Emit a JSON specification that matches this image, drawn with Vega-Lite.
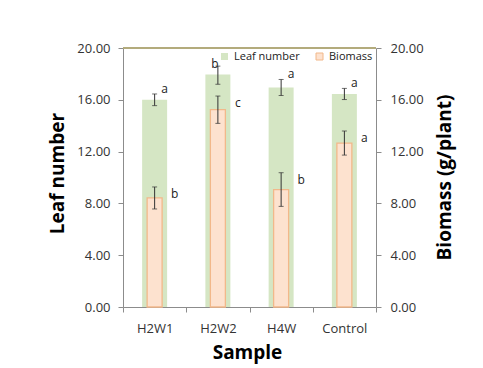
{
  "$schema": "https://vega.github.io/schema/vega-lite/v6.json",
  "width": 253,
  "height": 259,
  "autosize": {"type": "none"},
  "padding": {"left": 123, "top": 48, "right": 107, "bottom": 61},
  "background": "white",
  "config": {
    "view": {"stroke": null},
    "font": "Open Sans",
    "axis": {
      "labelFont": "Open Sans",
      "labelFontSize": 13,
      "labelColor": "#333333",
      "titleFont": "Open Sans",
      "titleFontSize": 19,
      "titleFontWeight": "bold",
      "titleColor": "#000000",
      "domainColor": "#8c8c8c",
      "tickColor": "#8c8c8c",
      "tickSize": 5,
      "grid": false
    }
  },
  "data": {
    "values": [
      {"sample": "H2W1", "leaf": 16.0, "leaf_lo": 15.55, "leaf_hi": 16.45, "leaf_sig": "a", "bio": 8.42, "bio_lo": 7.57, "bio_hi": 9.27, "bio_sig": "b"},
      {"sample": "H2W2", "leaf": 17.95, "leaf_lo": 17.2, "leaf_hi": 18.6, "leaf_sig": "b", "bio": 15.24, "bio_lo": 14.18, "bio_hi": 16.29, "bio_sig": "c"},
      {"sample": "H4W", "leaf": 16.95, "leaf_lo": 16.33, "leaf_hi": 17.57, "leaf_sig": "a", "bio": 9.07, "bio_lo": 7.77, "bio_hi": 10.37, "bio_sig": "b"},
      {"sample": "Control", "leaf": 16.45, "leaf_lo": 16.02, "leaf_hi": 16.88, "leaf_sig": "a", "bio": 12.66, "bio_lo": 11.73, "bio_hi": 13.59, "bio_sig": "a"}
    ]
  },
  "layer": [
    {
      "layer": [
        {
          "encoding": {
            "x": {
              "field": "sample",
              "type": "nominal",
              "sort": null,
              "scale": {"paddingInner": 0, "paddingOuter": 0},
              "axis": {
                "title": "Sample",
                "labelAngle": 0,
                "tickBand": "extent",
                "labelPadding": 10,
                "titleX": 124,
                "titleY": 51,
                "titleBaseline": "alphabetic",
                "titleAlign": "center"
              }
            }
          },
          "layer": [
            {
              "mark": {"type": "bar", "size": 25},
              "encoding": {
                "y": {
                  "field": "leaf",
                  "type": "quantitative",
                  "title": "Leaf number",
                  "scale": {"domain": [0, 20]},
                  "axis": {
                    "orient": "left",
                    "values": [0, 4, 8, 12, 16, 20],
                    "format": ".2f",
                    "labelPadding": 8,
                    "titleAngle": 270,
                    "titleX": -66,
                    "titleY": 125,
                    "titleAlign": "center",
                    "titleBaseline": "middle"
                  }
                },
                "color": {
                  "datum": "Leaf number",
                  "scale": {"domain": ["Leaf number", "Biomass"], "range": ["#d5e6c4", "#fde2cf"]},
                  "legend": {
                    "title": null,
                    "orient": "top-right",
                    "direction": "horizontal",
                    "offset": 3,
                    "symbolType": "square",
                    "symbolSize": 49,
                    "labelFont": "Open Sans",
                    "labelFontSize": 11,
                    "labelColor": "#222222",
                    "columnPadding": 14,
                    "symbolOpacity": 1,
                    "encode": {
                      "symbols": {
                        "update": {
                          "stroke": [{"test": "datum.value === 'Biomass'", "value": "#f2b88a"}, {"value": "transparent"}],
                          "strokeWidth": {"value": 1}
                        }
                      }
                    }
                  }
                }
              }
            },
            {
              "mark": {"type": "rule", "color": "#333333", "strokeWidth": 1},
              "encoding": {
                "y": {"field": "leaf_lo", "type": "quantitative", "title": "Leaf number"},
                "y2": {"field": "leaf_hi"}
              }
            },
            {
              "mark": {"type": "tick", "color": "#333333", "size": 5, "thickness": 1},
              "encoding": {"y": {"field": "leaf_lo", "type": "quantitative", "title": "Leaf number"}}
            },
            {
              "mark": {"type": "tick", "color": "#333333", "size": 5, "thickness": 1},
              "encoding": {"y": {"field": "leaf_hi", "type": "quantitative", "title": "Leaf number"}}
            },
            {
              "transform": [{"filter": "datum.sample !== 'H2W2'"}],
              "mark": {"type": "text", "fontSize": 12, "font": "Open Sans", "color": "#222222", "dx": 10, "dy": -5, "baseline": "middle"},
              "encoding": {
                "y": {"field": "leaf_hi", "type": "quantitative", "title": "Leaf number"},
                "text": {"field": "leaf_sig"}
              }
            },
            {
              "transform": [{"filter": "datum.sample === 'H2W2'"}],
              "mark": {"type": "text", "fontSize": 12, "font": "Open Sans", "color": "#222222", "dx": -3, "dy": -2, "baseline": "middle"},
              "encoding": {
                "y": {"field": "leaf_hi", "type": "quantitative", "title": "Leaf number"},
                "text": {"field": "leaf_sig"}
              }
            }
          ]
        },
        {
          "mark": {"type": "rule", "color": "#b3ab7d", "strokeWidth": 1.5},
          "encoding": {"y": {"datum": 20, "type": "quantitative", "title": "Leaf number"}}
        }
      ]
    },
    {
      "encoding": {
        "x": {"field": "sample", "type": "nominal", "sort": null}
      },
      "layer": [
        {
          "mark": {"type": "bar", "size": 15, "stroke": "#f2b88a", "strokeWidth": 1.3},
          "encoding": {
            "y": {
              "field": "bio",
              "type": "quantitative",
              "title": "Biomass (g/plant)",
              "scale": {"domain": [0, 20]},
              "axis": {
                "orient": "right",
                "values": [0, 4, 8, 12, 16, 20],
                "format": ".2f",
                "labelPadding": 9,
                "titleAngle": 270,
                "titleX": 68,
                "titleY": 129,
                "titleAlign": "center",
                "titleBaseline": "middle"
              }
            },
            "color": {"datum": "Biomass"}
          }
        },
        {
          "mark": {"type": "rule", "color": "#333333", "strokeWidth": 1},
          "encoding": {
            "y": {"field": "bio_lo", "type": "quantitative", "title": "Biomass (g/plant)"},
            "y2": {"field": "bio_hi"}
          }
        },
        {
          "mark": {"type": "tick", "color": "#333333", "size": 5, "thickness": 1},
          "encoding": {"y": {"field": "bio_lo", "type": "quantitative", "title": "Biomass (g/plant)"}}
        },
        {
          "mark": {"type": "tick", "color": "#333333", "size": 5, "thickness": 1},
          "encoding": {"y": {"field": "bio_hi", "type": "quantitative", "title": "Biomass (g/plant)"}}
        },
        {
          "mark": {"type": "text", "fontSize": 12, "font": "Open Sans", "color": "#222222", "dx": 20, "dy": 7, "baseline": "middle"},
          "encoding": {
            "y": {"field": "bio_hi", "type": "quantitative", "title": "Biomass (g/plant)"},
            "text": {"field": "bio_sig"}
          }
        }
      ]
    }
  ],
  "resolve": {"scale": {"y": "independent"}}
}
